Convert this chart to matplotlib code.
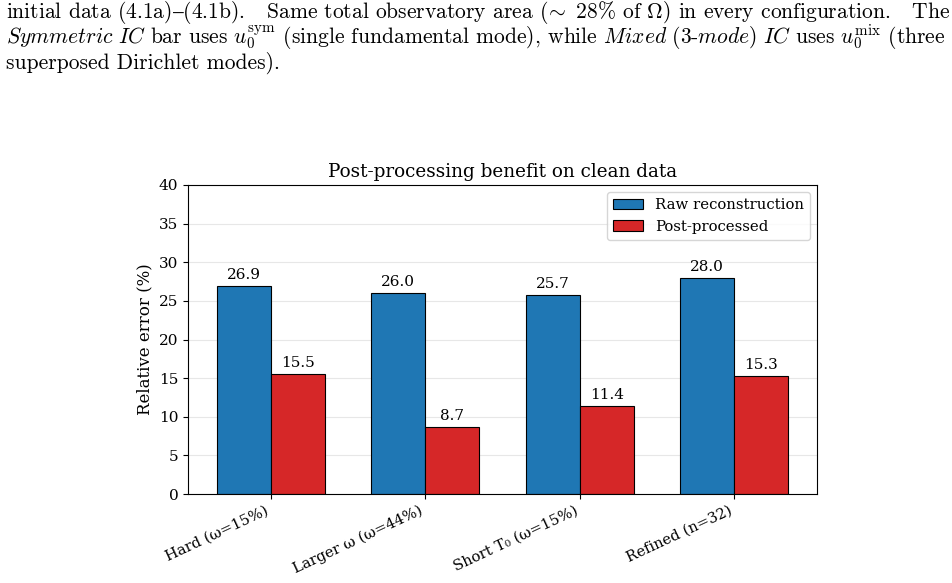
import matplotlib
matplotlib.use('Agg')
from matplotlib import pyplot as plt
import numpy as np

# chart data
configs = ['Hard (ω=15%)', 'Larger ω (ω=44%)', 'Short T₀ (ω=15%)', 'Refined (n=32)']
raw_err = [26.9, 26.0, 25.7, 28.0]
post_err = [15.5, 8.7, 11.4, 15.3]

# caption lines above the figure (from the paper page)
caption = [
	'initial data (4.1a)$\u2013$(4.1b).   Same total observatory area ($\\!\\sim$ 28% of $\\Omega$) in every configuration.   The',
	'$\\mathit{Symmetric\\ IC}$ bar uses $u_0^{\\mathrm{sym}}$ (single fundamental mode), while '
	'$\\mathit{Mixed\\ (3}$-$\\mathit{mode)\\ IC}$ uses $u_0^{\\mathrm{mix}}$ (three',
	'superposed Dirichlet modes).',
]

plt.rcParams['mathtext.fontset'] = 'cm'
plt.rcParams['axes.unicode_minus'] = False

fig = plt.figure(figsize=(9.52, 5.83), dpi=100)

for i, line in enumerate(caption):
	fig.text(6 / 952, 1 - (18 + 25.5 * i) / 583, line, family=['cmr10', 'DejaVu Serif'],
		fontsize=15.5, va='baseline', ha='left')

ax = fig.add_axes([188 / 952, 1 - 494 / 583, (817 - 188) / 952, (494 - 185) / 583])

x = np.arange(len(configs))
w = 0.35
serif = {'family': 'DejaVu Serif'}

b1 = ax.bar(x - w / 2, raw_err, w, color='#1f77b4', edgecolor='black', linewidth=0.8,
	label='Raw reconstruction')
b2 = ax.bar(x + w / 2, post_err, w, color='#d62728', edgecolor='black', linewidth=0.8,
	label='Post-processed')
for bars in (b1, b2):
	ax.bar_label(bars, fmt='%.1f', padding=3, fontsize=11, fontfamily='DejaVu Serif')

ax.set_ylim(0, 40)
ax.set_xticks(x)
ax.set_xticklabels(configs, rotation=25, ha='right', fontdict=serif, fontsize=10.6)
for lab in ax.get_yticklabels():
	lab.set_fontfamily('DejaVu Serif')
	lab.set_fontsize(11)
ax.set_ylabel('Relative error (%)', fontdict=serif, fontsize=12)
ax.set_title('Post-processing benefit on clean data', fontdict=serif, fontsize=13.2)
ax.grid(axis='y', alpha=0.3)
ax.set_axisbelow(True)
ax.legend(loc='upper right', prop={'family': 'DejaVu Serif', 'size': 10.7})

plt.savefig('out.png', dpi=100)
